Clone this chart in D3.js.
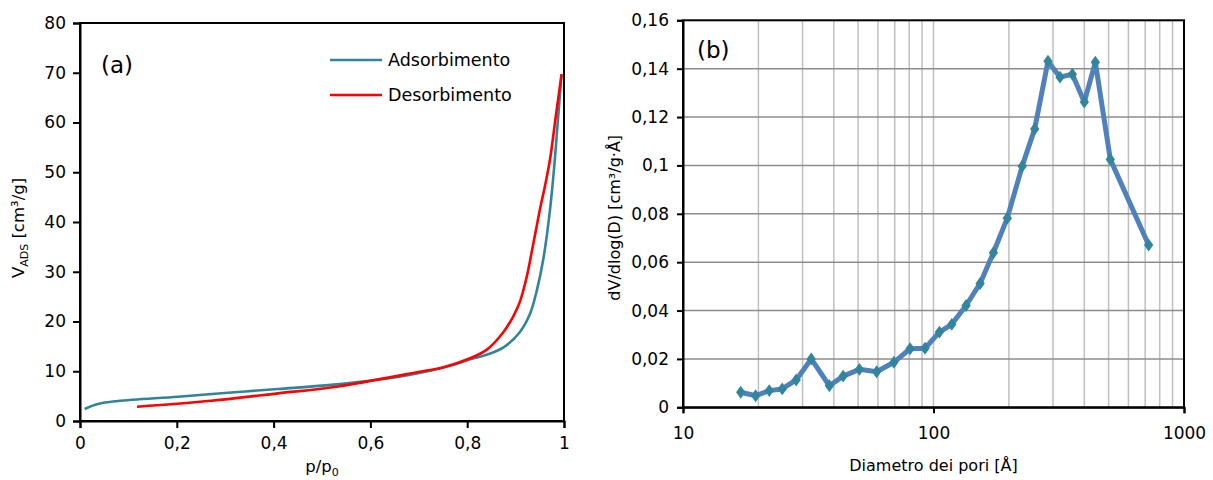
<!DOCTYPE html>
<html><head><meta charset="utf-8">
<script src="https://cdn.jsdelivr.net/npm/d3@7"></script>
<style>
html,body{margin:0;padding:0;background:#fff;}
svg{display:block;font-family:"DejaVu Sans",sans-serif;}
</style></head>
<body>
<svg id="chart" width="1213" height="480"></svg>
<script>
// ---- Data: chart (a) isotherm ----
const adsP = [0.0097,0.037,0.0785,0.2025,0.306,0.409,0.530,0.668,0.771,0.806,0.840,0.875,0.909,0.930,0.944,0.957,0.971,0.981,0.988,0.995];
const adsV = [2.41,3.42,4.02,4.89,5.69,6.43,7.37,9.05,11.26,12.4,13.3,14.8,17.9,21.6,26.3,32.4,42.4,52.5,61.2,69.7];
const desP = [0.1178,0.271,0.409,0.530,0.702,0.751,0.806,0.840,0.875,0.895,0.909,0.923,0.933,0.950,0.961,0.971,0.983,0.995];
const desV = [2.88,4.08,5.56,6.9,9.9,10.8,12.6,14.3,17.9,21.0,24.0,29.0,33.8,42.4,47.4,52.5,61.2,69.7];
const seriesNames = ["Adsorbimento","Desorbimento"];
const xTicksA = [0,0.2,0.4,0.6,0.8,1];
const yTicksA = [0,10,20,30,40,50,60,70,80];

// ---- Data: chart (b) pore size distribution ----
const poreD = [17.0,19.5,22.1,24.9,28.3,32.5,38.4,43.6,50.6,59.3,69.5,80.6,92.5,105.6,118.3,134.9,153.5,173.4,197,226,253.5,286.4,319.9,358.3,400,442.6,508,722.6];
const poreV = [0.0062,0.0048,0.0069,0.0076,0.0113,0.020,0.0089,0.0129,0.0157,0.0147,0.0186,0.0242,0.0244,0.0311,0.0343,0.0421,0.0512,0.0639,0.0782,0.0997,0.1151,0.1431,0.1365,0.1377,0.1262,0.1427,0.1025,0.0671];
const xTicksB = [10,100,1000];
const yTicksB = [0,0.02,0.04,0.06,0.08,0.1,0.12,0.14,0.16];

const fmt = v => String(v).replace(".", ",");
const svg = d3.select("#chart");
const TICKFS = 17;

// ================= Chart (a) =================
const A = {l:80, r:564, t:23, b:421};
const xa = d3.scaleLinear().domain([0,1]).range([A.l, A.r]);
const ya = d3.scaleLinear().domain([0,80]).range([A.b, A.t]);
const ga = svg.append("g");

ga.append("rect").attr("x",A.l).attr("y",A.t).attr("width",A.r-A.l).attr("height",A.b-A.t)
  .attr("fill","none").attr("stroke","#000").attr("stroke-width",2);

const axA_x = ga.append("g").attr("transform",`translate(0,${A.b})`)
  .call(d3.axisBottom(xa).tickValues(xTicksA).tickFormat(fmt).tickSize(7).tickPadding(9));
const axA_y = ga.append("g").attr("transform",`translate(${A.l},0)`)
  .call(d3.axisLeft(ya).tickValues(yTicksA).tickFormat(fmt).tickSize(7).tickPadding(7));
[axA_x, axA_y].forEach(ax=>{
  ax.select(".domain").attr("stroke","#000").attr("stroke-width",2);
  ax.selectAll(".tick line").attr("stroke","#000").attr("stroke-width",2);
  ax.selectAll(".tick text").attr("font-size",TICKFS).attr("fill","#000").attr("font-family","DejaVu Sans");
});

const lineA = d3.line().x(d=>xa(d[0])).y(d=>ya(d[1])).curve(d3.curveCatmullRom.alpha(0.5));
const adsData = adsP.map((p,i)=>[p,adsV[i]]);
const desData = desP.map((p,i)=>[p,desV[i]]);
const colA = ["#31849B","#FF0000"];
ga.append("path").datum(adsData).attr("d",lineA).attr("fill","none").attr("stroke",colA[0]).attr("stroke-width",2.6);
ga.append("path").datum(desData).attr("d",lineA).attr("fill","none").attr("stroke",colA[1]).attr("stroke-width",2.6);

// legend
seriesNames.forEach((n,i)=>{
  const y = 60 + i*35;
  ga.append("line").attr("x1",330).attr("x2",382).attr("y1",y).attr("y2",y).attr("stroke",colA[i]).attr("stroke-width",2.6);
  ga.append("text").attr("x",388).attr("y",y).attr("dy","0.36em").attr("font-size",17.5).attr("fill","#000").text(n);
});
ga.append("text").attr("x",101).attr("y",73).attr("font-size",23).attr("fill","#000").text("(a)");

// axis titles (a)
const xtA = ga.append("text").attr("x",(A.l+A.r)/2).attr("y",472).attr("text-anchor","middle").attr("font-size",16.5).attr("fill","#000");
xtA.append("tspan").text("p/p");
xtA.append("tspan").attr("font-size",11).attr("dy",4).text("0");
const ytA = ga.append("text").attr("transform",`translate(24,${(A.t+A.b)/2+6}) rotate(-90)`).attr("text-anchor","middle").attr("font-size",16.5).attr("fill","#000");
ytA.append("tspan").text("V");
ytA.append("tspan").attr("font-size",11).attr("dy",4).text("ADS");
ytA.append("tspan").attr("dy",-4).text("  [cm³/g]");

// ================= Chart (b) =================
const B = {l:683, r:1184, t:20.3, b:407.3};
const xb = d3.scaleLog().domain([10,1000]).range([B.l, B.r]);
const yb = d3.scaleLinear().domain([0,0.16]).range([B.b, B.t]);
const gb = svg.append("g");

const vGrid = [];
[10,100].forEach(dec=>{ for(let k=2;k<=9;k++) vGrid.push(dec*k); });
vGrid.push(100);
gb.append("g").selectAll("line").data(vGrid).join("line")
  .attr("x1",d=>xb(d)).attr("x2",d=>xb(d)).attr("y1",B.t).attr("y2",B.b)
  .attr("stroke","#BFBFBF").attr("stroke-width",1.5);
gb.append("g").selectAll("line").data(yTicksB.filter(v=>v>0 && v<0.16)).join("line")
  .attr("x1",B.l).attr("x2",B.r).attr("y1",d=>yb(d)).attr("y2",d=>yb(d))
  .attr("stroke","#8C8C8C").attr("stroke-width",1.5);

gb.append("rect").attr("x",B.l).attr("y",B.t).attr("width",B.r-B.l).attr("height",B.b-B.t)
  .attr("fill","none").attr("stroke","#000").attr("stroke-width",2);

const axB_x = gb.append("g").attr("transform",`translate(0,${B.b})`)
  .call(d3.axisBottom(xb).tickValues(xTicksB).tickFormat(d=>String(d)).tickSize(6).tickPadding(14));
const axB_y = gb.append("g").attr("transform",`translate(${B.l},0)`)
  .call(d3.axisLeft(yb).tickValues(yTicksB).tickFormat(fmt).tickSize(6).tickPadding(8));
[axB_x, axB_y].forEach(ax=>{
  ax.select(".domain").attr("stroke","#000").attr("stroke-width",2);
  ax.selectAll(".tick line").attr("stroke","#000").attr("stroke-width",2);
  ax.selectAll(".tick text").attr("font-size",TICKFS).attr("fill","#000").attr("font-family","DejaVu Sans");
});

const poreData = poreD.map((d,i)=>[d,poreV[i]]);
gb.append("path").datum(poreData)
  .attr("d",d3.line().x(d=>xb(d[0])).y(d=>yb(d[1])))
  .attr("fill","none").attr("stroke","#4F81BD").attr("stroke-width",5).attr("stroke-linejoin","round");
const diamond = d3.symbol().type(d3.symbolDiamond).size(48);
gb.append("g").selectAll("path").data(poreData).join("path")
  .attr("transform",d=>`translate(${xb(d[0])},${yb(d[1])}) scale(1.25,1)`)
  .attr("d",diamond).attr("fill","#31859C");

gb.append("text").attr("x",697).attr("y",58).attr("font-size",23).attr("fill","#000").text("(b)");
gb.append("text").attr("x",(B.l+B.r)/2).attr("y",471).attr("text-anchor","middle").attr("font-size",16).attr("fill","#000").text("Diametro dei pori [Å]");
gb.append("text").attr("transform",`translate(620,${(B.t+B.b)/2+4}) rotate(-90)`).attr("text-anchor","middle").attr("font-size",16).attr("fill","#000")
  .text("dV/dlog(D) [cm³/g·Å]");
</script>
</body></html>
